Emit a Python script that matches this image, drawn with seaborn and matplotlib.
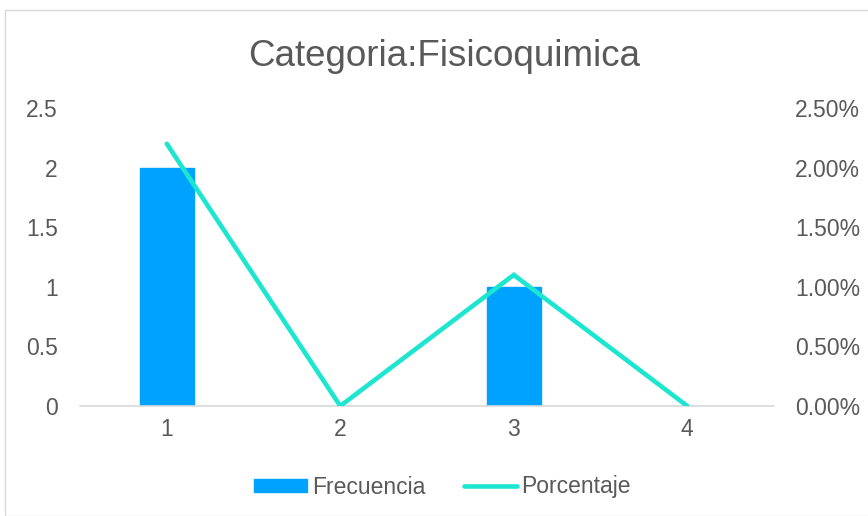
import matplotlib
matplotlib.use("Agg")
import matplotlib.pyplot as plt
import seaborn as sns
import pandas as pd
from matplotlib.patches import Rectangle
from matplotlib.lines import Line2D
from matplotlib.ticker import FuncFormatter

categories = ["1", "2", "3", "4"]
frecuencia = [2, 0, 1, 0]
porcentaje = [2.2, 0.0, 1.1, 0.0]
left_ticks = [0, 0.5, 1, 1.5, 2, 2.5]
right_ticks = [0, 0.5, 1.0, 1.5, 2.0, 2.5]
title = "Categoria:Fisicoquimica"

sns.set_style("white")
plt.rcParams['font.family'] = ['Liberation Sans', 'DejaVu Sans']

bar_color = "#00A2FF"
line_color = "#1CE6D0"
text_color = "#595959"

df = pd.DataFrame({"cat": categories, "Frecuencia": frecuencia, "Porcentaje": porcentaje})

W, H = 868, 516
fig = plt.figure(figsize=(W / 100, H / 100), dpi=100)
fig.patches.append(Rectangle((5 / W, 0), 1.2, 1 - 10 / H, transform=fig.transFigure,
                             fill=False, edgecolor="#D9D9D9", linewidth=1))

ax = fig.add_axes([80 / W, 1 - 406 / H, (774 - 80) / W, (406 - 108) / H])
sns.barplot(data=df, x="cat", y="Frecuencia", ax=ax, color=bar_color, width=0.31,
            saturation=1, edgecolor=bar_color)
ax.set_xlim(-0.5, 3.5)
ax.set_ylim(0, 2.5)
ax.set_yticks(left_ticks)
ax.yaxis.set_major_formatter(FuncFormatter(lambda v, p: f"{v:g}"))
ax.set_xlabel("")
ax.set_ylabel("")
for s in ["top", "right", "left"]:
    ax.spines[s].set_visible(False)
ax.spines["bottom"].set_color("#D9D9D9")
ax.spines["bottom"].set_linewidth(1.2)
ax.tick_params(axis="both", length=0, labelsize=16.5, colors=text_color)
ax.tick_params(axis="y", pad=16)
ax.tick_params(axis="x", pad=9)

ax2 = ax.twinx()
sns.lineplot(x=list(range(len(categories))), y=porcentaje, ax=ax2, color=line_color,
             linewidth=3.3, solid_capstyle="round", solid_joinstyle="miter")
ax2.set_ylim(0, 2.5)
ax2.set_xlim(-0.5, 3.5)
ax2.set_yticks(right_ticks)
ax2.yaxis.set_major_formatter(FuncFormatter(lambda v, p: f"{v:.2f}%"))
for s in ax2.spines.values():
    s.set_visible(False)
ax2.tick_params(axis="y", length=0, labelsize=16.5, colors=text_color, pad=15)
ax2.set_ylabel("")

fig.text(0.512, 1 - 56 / H, title, ha="center", va="center", fontsize=26.5, color=text_color)

handles = [Rectangle((0, 0), 1, 1, color=bar_color),
           Line2D([0], [0], color=line_color, linewidth=3.3, solid_capstyle="round")]
fig.legend(handles, ["Frecuencia", "Porcentaje"], loc="center", bbox_to_anchor=(0.51, 1 - 487 / H),
           ncol=2, frameon=False, fontsize=16.5, labelcolor=text_color, handlelength=2.3,
           handletextpad=0.2, columnspacing=1.7, handleheight=0.5)

fig.savefig("out.png", dpi=100)
